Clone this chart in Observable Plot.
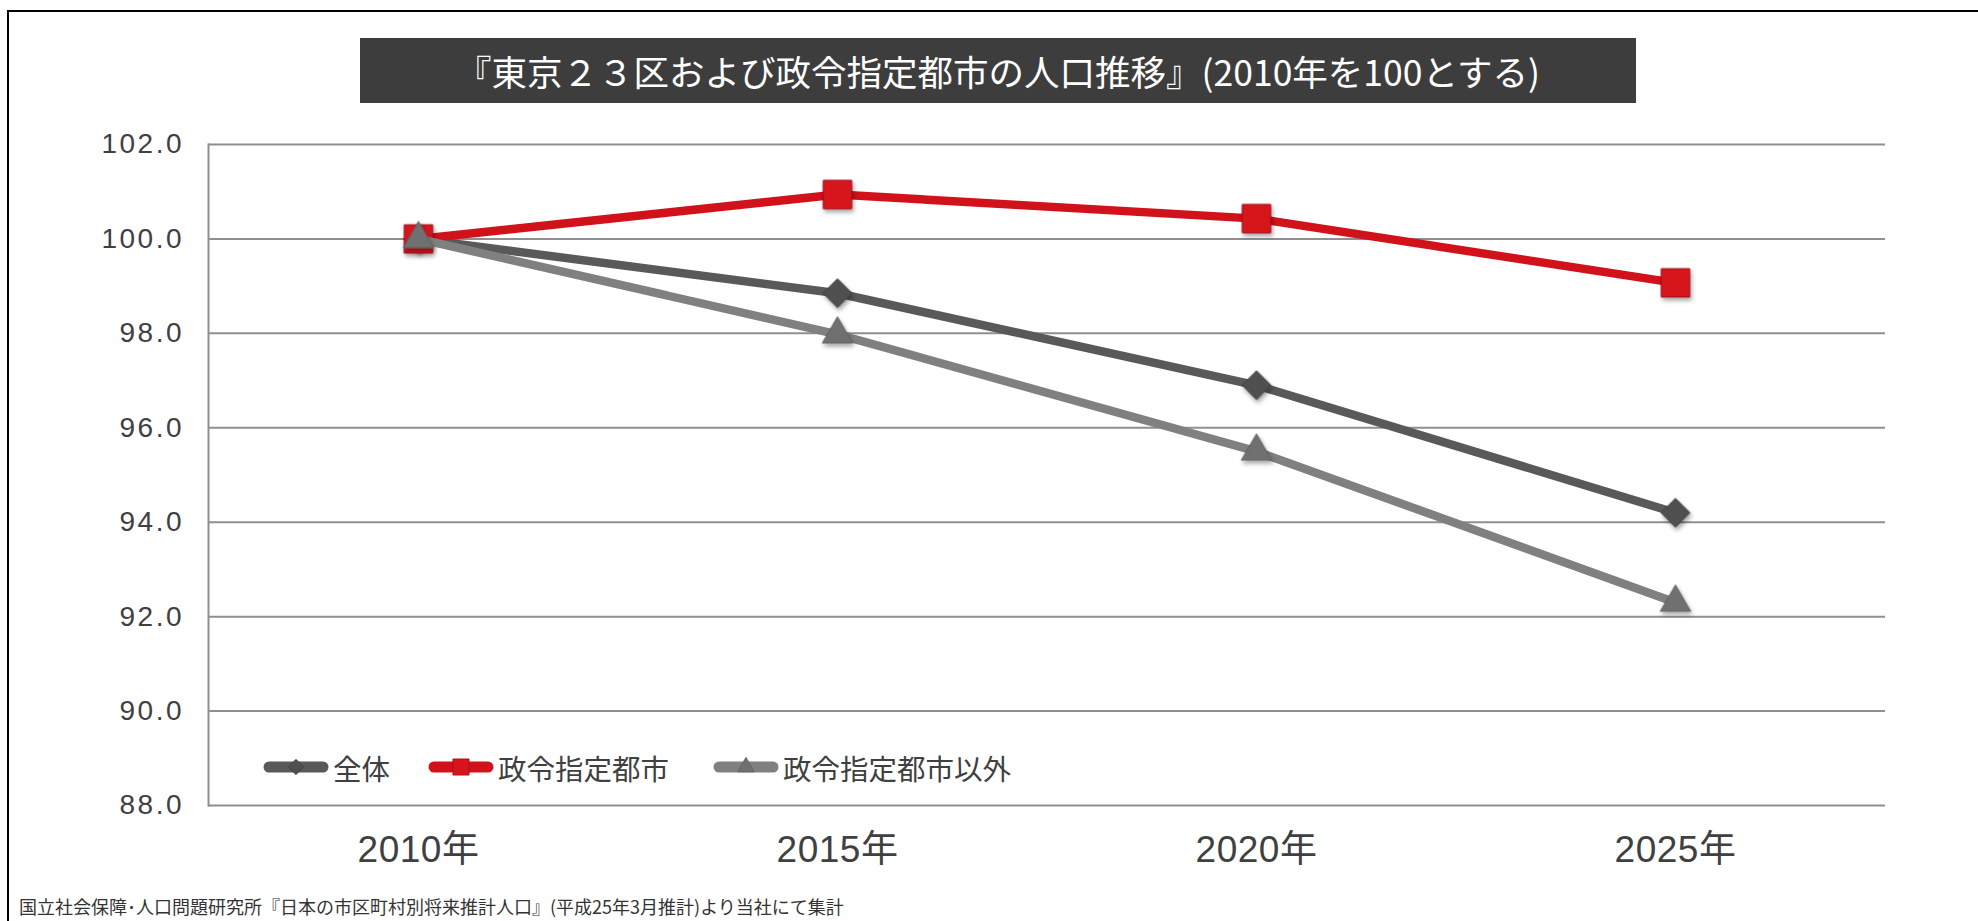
<!DOCTYPE html>
<html lang="ja">
<head>
<meta charset="utf-8">
<script src="https://cdn.jsdelivr.net/npm/d3@7"></script>
<script src="https://cdn.jsdelivr.net/npm/@observablehq/plot@0.6"></script>
<style>
  html, body { margin: 0; padding: 0; background: #fff; overflow: hidden; }
  #page { position: relative; width: 1978px; height: 921px; overflow: hidden; background: #fff; }
  #border { position: absolute; left: 7px; top: 10px; width: 2100px; height: 1000px; border: 2px solid #000; box-sizing: border-box; }
  #titlewrap { position: relative; height: 110px; }
  #title { position: absolute; left: 360px; top: 38px; width: 1276px; height: 65px; background: #3d3d3d; color: #fff;
           font-family: "Noto Sans CJK JP", sans-serif; font-size: 35.5px; display: flex; align-items: center; justify-content: center; white-space: nowrap; }
  #chart { position: relative; height: 770px; }
  #chart g[aria-label="y-axis tick label"] text { letter-spacing: 2.5px; }
  #chart g[aria-label="x-axis tick label"] text { letter-spacing: 0.5px; }
  #legend { position: absolute; left: 263px; top: 640px; height: 34px; display: flex; align-items: center;
            font-family: "Noto Sans CJK JP", sans-serif; font-size: 28.5px; color: #404040; white-space: nowrap; }
  #legend .item { display: flex; align-items: center; }
  #legend svg { display: block; }
  #caption { position: absolute; left: 19px; top: 893px; font-family: "Noto Sans CJK JP", sans-serif; font-size: 18px; color: #333; white-space: nowrap; line-height: 26px; }
</style>
</head>
<body>
<div id="page">
  <div id="border"></div>
  <div id="titlewrap"><div id="title"></div></div>
  <div id="chart"></div>
  <div id="caption"></div>
</div>
<script>
// ---- data ----
const titleText = "『東京２３区および政令指定都市の人口推移』(2010年を100とする)";
const captionText = "国立社会保障･人口問題研究所『日本の市区町村別将来推計人口』(平成25年3月推計)より当社にて集計";
const years = ["2010年", "2015年", "2020年", "2025年"];
const seriesNames = ["全体", "政令指定都市", "政令指定都市以外"];
const totalValues = [100.0, 98.85, 96.9, 94.2];
const designatedValues = [100.0, 100.94, 100.43, 99.07];
const otherValues = [100.0, 97.98, 95.5, 92.3];
const yTicks = [88, 90, 92, 94, 96, 98, 100, 102];

// ---- styles ----
const seriesColors = ["#595959", "#d2121b", "#808080"];
const markerFill = ["#4f4f4f", "#d7141c", "#707070"];
const markerStroke = ["#3f3f3f", "#9e0f15", "#606060"];
const markerSymbols = ["diamond2", "square", "triangle2"];
const markerR = [13, 16, 14.5];

const seriesValues = [totalValues, designatedValues, otherValues];
const rows = seriesNames.flatMap((s, i) => years.map((y, j) => ({series: s, year: y, value: seriesValues[i][j]})));

document.getElementById("title").textContent = titleText;
document.getElementById("caption").textContent = captionText;

const marks = [
  Plot.ruleY(yTicks, {stroke: "#8f8f8f", strokeWidth: 2}),
  Plot.frame({anchor: "left", stroke: "#8f8f8f", strokeWidth: 2}),
  Plot.axisY({ticks: yTicks, tickFormat: d => d.toFixed(1), tickSize: 0, tickPadding: 24.5, fontSize: 28, fill: "#404040", label: null}),
  Plot.axisX({tickSize: 0, tickPadding: 30, fontSize: 37, fill: "#404040", label: null})
];
seriesNames.forEach((s, i) => {
  const d = rows.filter(r => r.series === s);
  marks.push(Plot.line(d, {x: "year", y: "value", stroke: seriesColors[i], strokeWidth: 8.5, strokeLinejoin: "miter"}));
  marks.push(Plot.dot(d, {x: "year", y: "value", symbol: markerSymbols[i], r: markerR[i], fill: markerFill[i], stroke: markerStroke[i], strokeWidth: 1}));
});

const chart = Plot.plot({
  width: 1978,
  height: 770,
  marginLeft: 208,
  marginRight: 93,
  marginTop: 34,
  marginBottom: 75,
  style: {fontFamily: "'Liberation Sans', Arial, 'Noto Sans CJK JP', sans-serif", background: "transparent", overflow: "visible"},
  x: {type: "point", domain: years, padding: 0.5},
  y: {domain: [88, 102], ticks: yTicks},
  marks
});

// subtle drop shadow on markers
const ns = "http://www.w3.org/2000/svg";
const defs = document.createElementNS(ns, "defs");
defs.innerHTML = '<filter id="mshadow" x="-50%" y="-50%" width="200%" height="200%"><feDropShadow dx="1.5" dy="3" stdDeviation="2" flood-color="#000" flood-opacity="0.35"/></filter>';
chart.insertBefore(defs, chart.firstChild);
chart.querySelectorAll('g[aria-label="dot"]').forEach(g => g.setAttribute("filter", "url(#mshadow)"));

const chartDiv = document.getElementById("chart");
chartDiv.appendChild(chart);

// legend (inside plot area, bottom-left)
const legend = document.createElement("div");
legend.id = "legend";
const gaps = [38, 44, 0];
seriesNames.forEach((s, i) => {
  const item = document.createElement("div");
  item.className = "item";
  item.style.marginRight = gaps[i] + "px";
  const svg = d3.create("svg").attr("width", 66).attr("height", 30);
  svg.append("line").attr("x1", 6).attr("x2", 60).attr("y1", 15).attr("y2", 15)
    .attr("stroke", seriesColors[i]).attr("stroke-width", 11).attr("stroke-linecap", "round");
  const sym = {diamond2: d3.symbolDiamond2, square: d3.symbolSquare, triangle2: d3.symbolTriangle2}[markerSymbols[i]];
  const size = [150, 260, 200][i];
  svg.append("path").attr("d", d3.symbol(sym, size)()).attr("transform", "translate(33,15)")
    .attr("fill", markerFill[i]).attr("stroke", markerStroke[i]).attr("stroke-width", 0.8);
  item.appendChild(svg.node());
  const label = document.createElement("span");
  label.textContent = s;
  label.style.marginLeft = "4px";
  item.appendChild(label);
  legend.appendChild(item);
});
chartDiv.appendChild(legend);
</script>
</body>
</html>
